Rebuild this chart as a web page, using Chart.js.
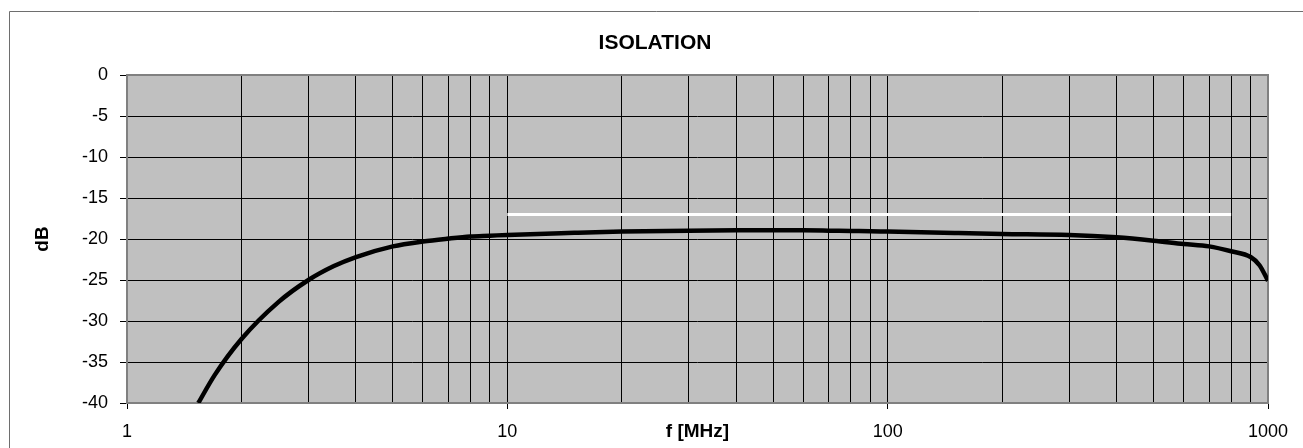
<!DOCTYPE html>
<html>
<head>
<meta charset="utf-8">
<title>ISOLATION</title>
<script src="https://cdn.jsdelivr.net/npm/chart.js@4.4.1/dist/chart.umd.min.js"></script>
<style>
  html, body { margin: 0; padding: 0; background: #fff; }
  #wrap { width: 1303px; height: 448px; }
</style>
</head>
<body>
<div id="wrap"><canvas id="isolation-chart" width="1303" height="448"></canvas></div>
<script>
// isolation curve
const freqMHz = [1.54, 1.7, 2, 2.5, 3, 3.5, 4, 5, 6, 7, 8, 9, 10, 15, 20, 30, 40, 50,
    60, 70, 80, 90, 100, 150, 200, 300, 400, 500, 600, 700, 800, 900, 950, 1000];
const isolationDb = [-40, -36.6, -32.2, -27.7, -25.0, -23.3, -22.2, -20.9, -20.3, -19.95, -19.7, -19.6, -19.5, -19.25, -19.1, -18.98, -18.94, -18.93,
    -18.94, -18.98, -19.02, -19.05, -19.1, -19.27, -19.38, -19.5, -19.8, -20.2, -20.6, -20.9, -21.5, -22.2, -23.2, -25.1];

// white limit line
const limitFreq = [10, 800];
const limitDb = [-17, -17];

// axes
const xTickValues = [1, 2, 3, 4, 5, 6, 7, 8, 9, 10, 20, 30, 40, 50, 60, 70, 80, 90,
    100, 200, 300, 400, 500, 600, 700, 800, 900, 1000];
const xLabelValues = [1, 10, 100, 1000];
const yMin = -40;
const yMax = 0;
const yStep = 5;

const chartTitle = 'ISOLATION';
const fontFamily = '"Liberation Sans", Arial, sans-serif';

// background, outer frame, plot border and title
const framePlugin = {
    id: 'frame',
    beforeDraw(chart) {
        const { ctx, chartArea: a } = chart;
        ctx.save();
        ctx.fillStyle = '#ffffff';
        ctx.fillRect(0, 0, chart.width, chart.height);
        ctx.strokeStyle = '#6e6e6e';
        ctx.lineWidth = 1;
        ctx.beginPath();
        ctx.moveTo(9.5, chart.height);
        ctx.lineTo(9.5, 11.5);
        ctx.lineTo(chart.width, 11.5);
        ctx.stroke();
        ctx.fillStyle = '#c0c0c0';
        ctx.fillRect(a.left, a.top, a.right - a.left, a.bottom - a.top);
        ctx.restore();
    },
    beforeDatasetsDraw(chart) {
        const { ctx, chartArea: a } = chart;
        ctx.save();
        ctx.strokeStyle = '#808080';
        ctx.lineWidth = 2;
        ctx.strokeRect(a.left, a.top, a.right - a.left, a.bottom - a.top);
        ctx.restore();
    },
    afterDraw(chart) {
        const ctx = chart.ctx;
        ctx.save();
        ctx.fillStyle = '#000';
        ctx.font = 'bold 21px ' + fontFamily;
        ctx.textAlign = 'center';
        ctx.textBaseline = 'middle';
        ctx.fillText(chartTitle, 655, 43);
        ctx.restore();
    }
};

const ctx = document.getElementById('isolation-chart').getContext('2d');
const chart = new Chart(ctx, {
    type: 'line',
    data: {
        datasets: [
            {
                label: 'Isolation',
                data: freqMHz.map((f, i) => ({ x: f, y: isolationDb[i] })),
                borderColor: '#000000',
                borderWidth: 4.5,
                pointRadius: 0,
                cubicInterpolationMode: 'monotone',
                fill: false
            },
            {
                label: 'Limit',
                data: limitFreq.map((f, i) => ({ x: f, y: limitDb[i] })),
                borderColor: '#ffffff',
                borderWidth: 3,
                pointRadius: 0,
                fill: false
            }
        ]
    },
    options: {
        responsive: false,
        animation: false,
        devicePixelRatio: 1,
        layout: { padding: { top: 75, right: 35, bottom: 0, left: 0 } },
        plugins: {
            legend: { display: false },
            tooltip: { enabled: false },
            title: { display: false }
        },
        scales: {
            x: {
                type: 'logarithmic',
                min: 1,
                max: 1000,
                afterBuildTicks: scale => {
                    scale.ticks = xTickValues.map(v => ({ value: v }));
                },
                afterFit: scale => { scale.height = 45; },
                border: { display: false },
                grid: {
                    color: '#000000',
                    lineWidth: 1,
                    tickLength: 6,
                    tickColor: c => xLabelValues.includes(c.tick && c.tick.value) ? '#000000' : 'rgba(0,0,0,0)'
                },
                ticks: {
                    autoSkip: false,
                    maxRotation: 0,
                    padding: 12,
                    color: '#000',
                    font: { family: fontFamily, size: 18 },
                    callback: v => xLabelValues.includes(v) ? String(v) : ''
                },
                title: {
                    display: true,
                    text: 'f [MHz]',
                    color: '#000',
                    padding: { top: 5, bottom: 5 },
                    font: { family: fontFamily, size: 19, weight: 'bold' }
                }
            },
            y: {
                min: yMin,
                max: yMax,
                afterFit: scale => { scale.width = 127; },
                border: { display: false },
                grid: {
                    color: '#000000',
                    lineWidth: 1,
                    tickLength: 7
                },
                ticks: {
                    stepSize: yStep,
                    padding: 12,
                    color: '#000',
                    font: { family: fontFamily, size: 18 }
                },
                title: {
                    display: true,
                    text: 'dB',
                    color: '#000',
                    padding: { top: 31, bottom: 31 },
                    font: { family: fontFamily, size: 19, weight: 'bold' }
                }
            }
        }
    },
    plugins: [framePlugin]
});
</script>
</body>
</html>
